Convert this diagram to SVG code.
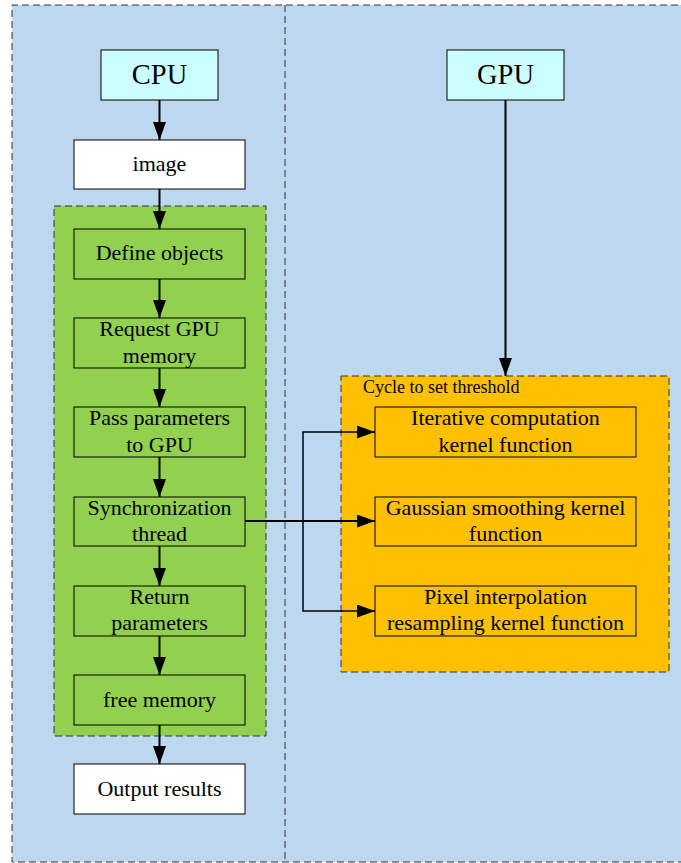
<svg xmlns="http://www.w3.org/2000/svg" width="681" height="863" viewBox="0 0 681 863">
<style>
text{font-family:"Liberation Serif","Times New Roman",serif;fill:#000;text-anchor:middle}
.t{font-size:22px}
.big{font-size:28.5px}
.box{stroke:#000;stroke-width:1}
.g{fill:#92D050}
.o{fill:#FFC000}
.c{fill:#CCFFFF}
.w{fill:#fff}
.dash{fill:none;stroke:#333;stroke-width:1;stroke-dasharray:7,4}
.edge{fill:none;stroke:#000;stroke-width:2}
</style>
<defs>
<marker id="ah" markerWidth="18" markerHeight="13" refX="18" refY="6.5" orient="auto" markerUnits="userSpaceOnUse">
<path d="M0,0 L18,6.5 L0,13 Z" fill="#000"/>
</marker>
</defs>
<rect x="0" y="0" width="681" height="863" fill="#fff"/>
<g id="background">
<rect x="12" y="5" width="680" height="857" fill="#BDD7EE"/>
<path class="dash" d="M700,5 H12 V862 H700"/>
<line class="dash" x1="285" y1="5" x2="285" y2="862"/>
</g>
<g id="cpu-group">
<rect x="54" y="206" width="212" height="530" class="g"/>
<rect x="54" y="206" width="212" height="530" class="dash"/>
</g>
<g id="gpu-group">
<rect x="341" y="376" width="328" height="296" class="o"/>
<rect x="341" y="376" width="328" height="296" class="dash"/>
<text x="363" y="393" style="font-size:18px;text-anchor:start">Cycle to set threshold</text>
</g>
<g id="cpu"><rect x="101" y="50" width="117" height="50" class="box c"/><text x="159.5" y="84" class="big">CPU</text></g>
<g id="gpu"><rect x="447" y="50" width="117" height="50" class="box c"/><text x="505.5" y="84" class="big">GPU</text></g>
<g id="image"><rect x="74" y="140" width="171" height="49" class="box w"/><text x="159.5" y="171" class="t">image</text></g>
<g id="define"><rect x="74" y="229" width="171" height="50" class="box g"/><text x="159.5" y="260" class="t">Define objects</text></g>
<g id="request"><rect x="74" y="318" width="171" height="50" class="box g"/><text x="159.5" y="336" class="t">Request GPU</text><text x="159.5" y="363" class="t">memory</text></g>
<g id="pass"><rect x="74" y="407" width="171" height="50" class="box g"/><text x="159.5" y="425" class="t">Pass parameters</text><text x="159.5" y="452" class="t">to GPU</text></g>
<g id="sync"><rect x="74" y="497" width="171" height="49" class="box g"/><text x="159.5" y="515" class="t">Synchronization</text><text x="159.5" y="541" class="t">thread</text></g>
<g id="return"><rect x="74" y="586" width="171" height="50" class="box g"/><text x="159.5" y="604" class="t">Return</text><text x="159.5" y="630" class="t">parameters</text></g>
<g id="free"><rect x="74" y="675" width="171" height="50" class="box g"/><text x="159.5" y="707" class="t">free memory</text></g>
<g id="output"><rect x="74" y="764" width="171" height="50" class="box w"/><text x="159.5" y="796" class="t">Output results</text></g>
<g id="iterative"><rect x="375" y="407" width="261" height="50" class="box o"/><text x="505.5" y="425" class="t">Iterative computation</text><text x="505.5" y="452" class="t">kernel function</text></g>
<g id="gaussian"><rect x="375" y="497" width="261" height="49" class="box o"/><text x="505.5" y="515" class="t">Gaussian smoothing kernel</text><text x="505.5" y="541" class="t">function</text></g>
<g id="pixel"><rect x="375" y="586" width="261" height="50" class="box o"/><text x="505.5" y="604" class="t">Pixel interpolation</text><text x="505.5" y="630" class="t">resampling kernel function</text></g>
<g id="connectors">
<line class="edge" x1="159.5" y1="100" x2="159.5" y2="140" marker-end="url(#ah)"/>
<line class="edge" x1="159.5" y1="189" x2="159.5" y2="229" marker-end="url(#ah)"/>
<line class="edge" x1="159.5" y1="279" x2="159.5" y2="318" marker-end="url(#ah)"/>
<line class="edge" x1="159.5" y1="368" x2="159.5" y2="407" marker-end="url(#ah)"/>
<line class="edge" x1="159.5" y1="457" x2="159.5" y2="497" marker-end="url(#ah)"/>
<line class="edge" x1="159.5" y1="546" x2="159.5" y2="586" marker-end="url(#ah)"/>
<line class="edge" x1="159.5" y1="636" x2="159.5" y2="675" marker-end="url(#ah)"/>
<line class="edge" x1="159.5" y1="725" x2="159.5" y2="764" marker-end="url(#ah)"/>
<line class="edge" x1="505.5" y1="100" x2="505.5" y2="376" marker-end="url(#ah)"/>
<line class="edge" x1="245" y1="521" x2="375" y2="521" marker-end="url(#ah)"/>
<path class="edge" style="stroke-width:1.5" d="M375,432 H303 V611 H375"/>
<line class="edge" x1="360" y1="432" x2="375" y2="432" marker-end="url(#ah)"/>
<line class="edge" x1="360" y1="611" x2="375" y2="611" marker-end="url(#ah)"/>
</g>
</svg>
